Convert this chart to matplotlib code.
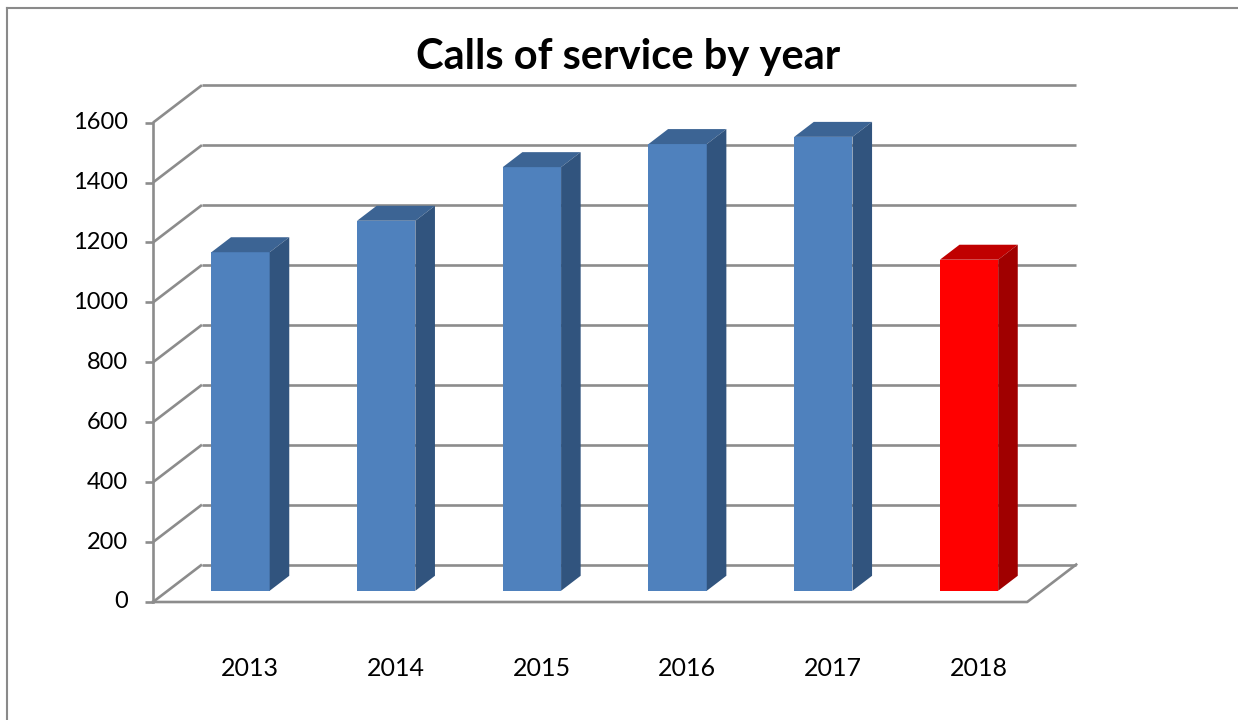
import matplotlib.pyplot as plt
from matplotlib.patches import Polygon
import numpy as np

plt.rcParams['font.family'] = ['Lato', 'DejaVu Sans']

# data
years = ["2013", "2014", "2015", "2016", "2017", "2018"]
calls = [1130, 1235, 1414, 1491, 1515, 1105]
y_ticks = [0, 200, 400, 600, 800, 1000, 1200, 1400, 1600]

# colours (front, top, side)
blue = ("#4f81bd", "#3c6494", "#31547e")
red = ("#ff0000", "#c00000", "#a00000")
bar_colors = [blue] * 5 + [red]
grid_col = "#8c8c8c"

# depth offset of the box (category units, value units)
DX, DY = 0.336, 125.0
BAR_W = 0.40
BAR_D0, BAR_D1 = 0.30, 0.70

# pixel layout of the figure -> data coords
W, H = 1238, 720
X0_PX, PX_PER_CAT = 153, 145.7
Y0_PX, PX_PER_VAL = 602, 0.2996

fig = plt.figure(figsize=(W / 100, H / 100), dpi=100)
ax = fig.add_axes([0, 0, 1, 1])
ax.set_xlim(-X0_PX / PX_PER_CAT, (W - X0_PX) / PX_PER_CAT)
ax.set_ylim((Y0_PX - H) / PX_PER_VAL, Y0_PX / PX_PER_VAL)
ax.axis("off")

n = len(years)
ymax = y_ticks[-1]


def proj(x, y, d):
    return (x + d * DX, y + d * DY)


# back wall gridlines + left wall diagonals
lw = 1.9
for t in y_ticks:
    bx, by = proj(0, t, 1)
    ax.plot([0, bx], [t, by], color=grid_col, lw=lw, solid_capstyle="butt", zorder=1)
    ax.plot([bx, n + DX], [by, by], color=grid_col, lw=lw, solid_capstyle="butt", zorder=1)
    ax.plot([-0.055, 0], [t, t], color=grid_col, lw=lw, solid_capstyle="butt", zorder=1)
    ax.text(-0.17, t, str(t), ha="right", va="center", fontsize=17, color="black")

# front axis and floor
ax.plot([0, 0], [0, ymax], color=grid_col, lw=lw, zorder=1)
ax.plot([0, n, n + DX], [0, 0, DY], color=grid_col, lw=lw, zorder=1)

# bars as boxes
for i, (v, cols) in enumerate(zip(calls, bar_colors)):
    left = i + 0.5 - BAR_W / 2
    right = i + 0.5 + BAR_W / 2
    fx, fy = BAR_D0 * DX, BAR_D0 * DY
    ddx, ddy = (BAR_D1 - BAR_D0) * DX, (BAR_D1 - BAR_D0) * DY
    ax.bar(left + fx, v, width=BAR_W, bottom=fy, align="edge",
           color=cols[0], edgecolor="none", zorder=3)
    top = Polygon([(left + fx, v + fy), (right + fx, v + fy),
                   (right + fx + ddx, v + fy + ddy), (left + fx + ddx, v + fy + ddy)],
                  closed=True, facecolor=cols[1], edgecolor="none", zorder=3)
    side = Polygon([(right + fx, fy), (right + fx + ddx, fy + ddy),
                    (right + fx + ddx, v + fy + ddy), (right + fx, v + fy)],
                   closed=True, facecolor=cols[2], edgecolor="none", zorder=3)
    ax.add_patch(top)
    ax.add_patch(side)
    ax.text(i + 0.5 + 0.5 * DX, (Y0_PX - 668) / PX_PER_VAL, years[i],
            ha="center", va="center", fontsize=18, color="black")

# title
fig.text(628 / W, 1 - 57 / H, "Calls of service by year", ha="center", va="center",
         fontsize=30, fontweight="bold", color="black")

# chart frame (top and left edges)
fig.add_artist(plt.Line2D([6.5 / W, 6.5 / W], [0, 1 - 7.5 / H], color="#8a8a8a", lw=1.5))
fig.add_artist(plt.Line2D([6.5 / W, 1], [1 - 7.5 / H, 1 - 7.5 / H], color="#8a8a8a", lw=1.5))

fig.savefig("out.png", dpi=100)
